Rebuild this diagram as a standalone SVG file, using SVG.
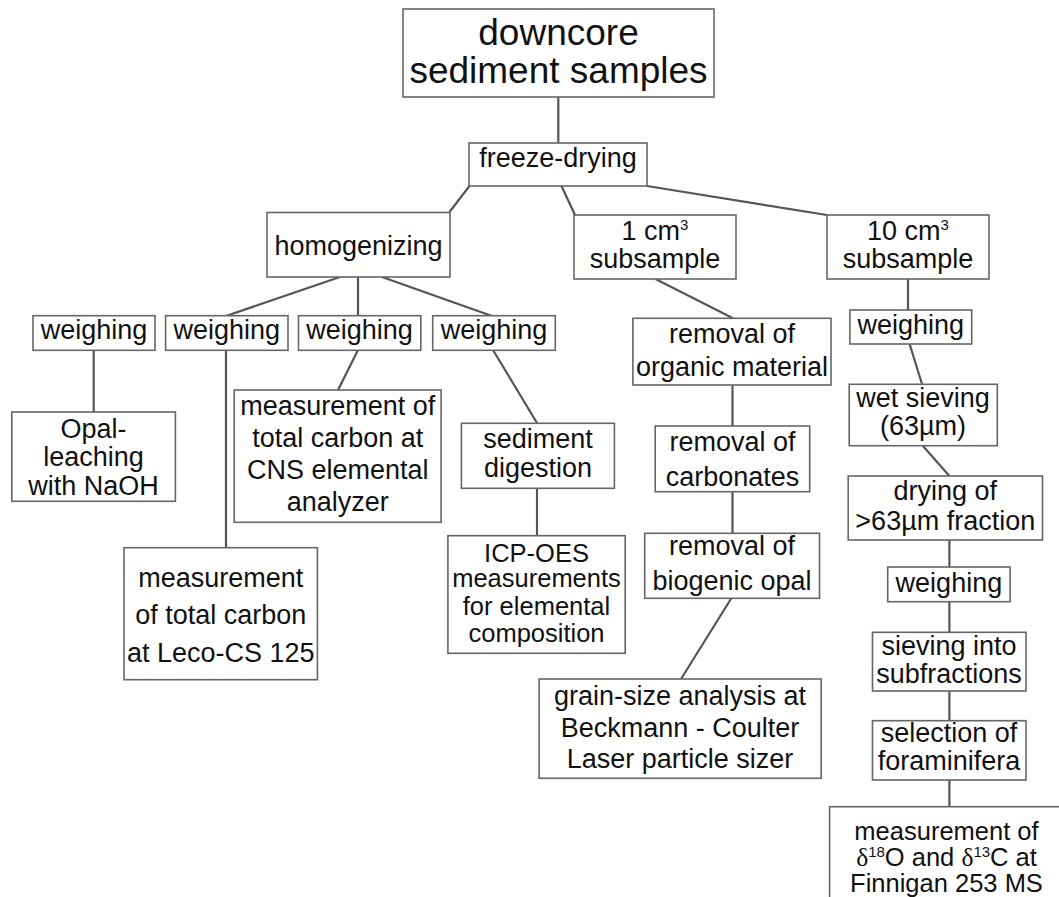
<svg xmlns="http://www.w3.org/2000/svg" width="1059" height="897" viewBox="0 0 1059 897">
<style>
rect{fill:#fff;stroke:#666;stroke-width:1.6}
text{font-family:"Liberation Sans",Arial,sans-serif;font-size:27px;fill:#111;text-anchor:middle}
.c line{stroke:#555;stroke-width:2.2}
.sup{font-size:15px}
.d{font-family:"Liberation Serif","DejaVu Serif",serif}
.s{font-size:25.5px}
</style>
<rect x="0" y="0" width="1059" height="897" style="stroke:none"/>
<g class="c" id="connectors">
<line x1="558.3" y1="97" x2="558.3" y2="143"/>
<line x1="469.5" y1="186" x2="449.5" y2="212"/>
<line x1="561.5" y1="186" x2="575" y2="215"/>
<line x1="647" y1="186" x2="827" y2="215"/>
<line x1="340" y1="277" x2="226" y2="316"/>
<line x1="358" y1="277" x2="358" y2="316"/>
<line x1="382" y1="277" x2="492" y2="316"/>
<line x1="93.7" y1="350" x2="93.7" y2="412"/>
<line x1="226" y1="350" x2="226" y2="548"/>
<line x1="358" y1="350" x2="338" y2="390"/>
<line x1="493" y1="350" x2="537" y2="423"/>
<line x1="537" y1="488" x2="537" y2="536"/>
<line x1="655.5" y1="279" x2="732.5" y2="318"/>
<line x1="732.5" y1="385" x2="732.5" y2="426"/>
<line x1="732.5" y1="492" x2="732.5" y2="533"/>
<line x1="731.5" y1="598" x2="681" y2="679"/>
<line x1="908" y1="279" x2="908" y2="310"/>
<line x1="909.6" y1="344" x2="922" y2="384"/>
<line x1="923" y1="446" x2="949.4" y2="476"/>
<line x1="949.4" y1="540" x2="949.4" y2="567"/>
<line x1="949.4" y1="602" x2="949.4" y2="632"/>
<line x1="949.4" y1="691" x2="949.4" y2="721"/>
<line x1="949.4" y1="780" x2="949.4" y2="807"/>
</g>
<g id="n-top"><rect x="403" y="9" width="311" height="88"/><text x="558.5" y="45" style="font-size:37px">downcore</text><text x="558.5" y="83" style="font-size:37px">sediment samples</text></g>
<g id="n-freeze"><rect x="469" y="143" width="178" height="43"/><text x="558" y="167">freeze-drying</text></g>
<g id="n-homog"><rect x="267" y="212.5" width="183" height="64.5"/><text x="358.5" y="255">homogenizing</text></g>
<g id="n-cm1"><rect x="574" y="215" width="162" height="64"/><text x="655" y="240">1 cm<tspan class="sup" dy="-10">3</tspan></text><text x="655" y="268">subsample</text></g>
<g id="n-cm10"><rect x="827" y="215" width="162" height="64"/><text x="908" y="240">10 cm<tspan class="sup" dy="-10">3</tspan></text><text x="908" y="268">subsample</text></g>
<g id="n-w1"><rect x="33" y="315.7" width="122" height="34.6"/><text x="94" y="339">weighing</text></g>
<g id="n-w2"><rect x="165.6" y="315.7" width="122.4" height="34.6"/><text x="226.8" y="339">weighing</text></g>
<g id="n-w3"><rect x="298.5" y="315.7" width="122.3" height="34.6"/><text x="359.6" y="339">weighing</text></g>
<g id="n-w4"><rect x="432.7" y="315.7" width="122.6" height="34.6"/><text x="494" y="339">weighing</text></g>
<g id="n-opal"><rect x="11.8" y="412" width="163.6" height="89.3"/><text x="93.6" y="437.5">Opal-</text><text x="93.6" y="466.3">leaching</text><text x="93.6" y="495">with NaOH</text></g>
<g id="n-leco"><rect x="124" y="547.7" width="193.4" height="132"/><text x="220.7" y="587">measurement</text><text x="220.7" y="624">of total carbon</text><text x="220.7" y="661.7">at Leco-CS 125</text></g>
<g id="n-cns"><rect x="234.2" y="390" width="206.9" height="132.3"/><text x="337.7" y="415">measurement of</text><text x="337.7" y="447.3">total carbon at</text><text x="337.7" y="479">CNS elemental</text><text x="337.7" y="510.7">analyzer</text></g>
<g id="n-sed"><rect x="461.4" y="423.3" width="153" height="65"/><text x="538" y="448.3">sediment</text><text x="538" y="476.5">digestion</text></g>
<g id="n-icp"><rect x="447.9" y="535.7" width="177.3" height="117.6"/><text class="s" x="536.5" y="561.7">ICP-OES</text><text class="s" x="536.5" y="587.3">measurements</text><text class="s" x="536.5" y="615">for elemental</text><text class="s" x="536.5" y="642.3">composition</text></g>
<g id="n-org"><rect x="632.9" y="318.3" width="198.1" height="66.7"/><text x="732" y="342.7">removal of</text><text x="732" y="376">organic material</text></g>
<g id="n-carb"><rect x="655.2" y="426" width="154.5" height="65.7"/><text x="732.5" y="450.7">removal of</text><text x="732.5" y="485.7">carbonates</text></g>
<g id="n-bopal"><rect x="644.7" y="533.3" width="174.8" height="65"/><text x="732" y="555">removal of</text><text x="732" y="590">biogenic opal</text></g>
<g id="n-grain"><rect x="539.1" y="679" width="282.1" height="99.3"/><text x="680" y="705">grain-size analysis at</text><text x="680" y="737.3">Beckmann - Coulter</text><text x="680" y="768.3">Laser particle sizer</text></g>
<g id="n-w5"><rect x="849.9" y="310" width="121.8" height="34"/><text x="910.8" y="334.3">weighing</text></g>
<g id="n-wet"><rect x="849.2" y="384.3" width="148.1" height="61.4"/><text x="923" y="406.7">wet sieving</text><text x="923" y="435">(63µm)</text></g>
<g id="n-dry"><rect x="848.2" y="476" width="194.3" height="64"/><text x="945.3" y="500">drying of</text><text x="945.3" y="530">&gt;63µm fraction</text></g>
<g id="n-w6"><rect x="887.7" y="567" width="122.4" height="34.7"/><text x="948.9" y="591.7">weighing</text></g>
<g id="n-sieve"><rect x="872.5" y="632.3" width="153.5" height="58.7"/><text x="949" y="655">sieving into</text><text x="949" y="683.3">subfractions</text></g>
<g id="n-sel"><rect x="872.5" y="720.7" width="153.5" height="59.3"/><text x="949" y="741.7">selection of</text><text x="949" y="770">foraminifera</text></g>
<g id="n-final"><rect x="829.6" y="806.7" width="240" height="100"/><text class="s" x="946.5" y="840">measurement of</text><text class="s" x="946.5" y="866"><tspan class="d">δ</tspan><tspan class="sup" dy="-9">18</tspan><tspan dy="9">O and </tspan><tspan class="d">δ</tspan><tspan class="sup" dy="-9">13</tspan><tspan dy="9">C at</tspan></text><text class="s" x="946.5" y="892">Finnigan 253 MS</text></g>
</svg>
